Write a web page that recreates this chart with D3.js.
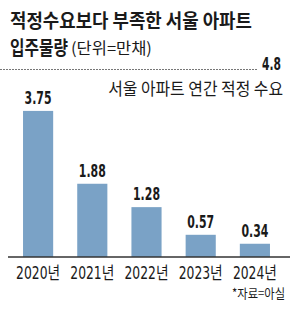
<!DOCTYPE html>
<html><head><meta charset="utf-8">
<script src="https://cdn.jsdelivr.net/npm/d3@7"></script>
<style>
html,body{margin:0;padding:0;background:#fff;}
svg{display:block;}
</style></head>
<body>
<script>
const categories = ["2020년","2021년","2022년","2023년","2024년"];
const values = [3.75, 1.88, 1.28, 0.57, 0.34];
const valueLabels = ["3.75","1.88","1.28","0.57","0.34"];
const demand = 4.8;
const demandLabel = "4.8";
const demandText = "서울 아파트 연간 적정 수요";
const titleLine1 = "적정수요보다 부족한 서울 아파트";
const titleLine2a = "입주물량";
const titleLine2b = "(단위=만채)";
const source = "*자료=아실";

const W = 298, H = 312;
const svg = d3.select("body").append("svg").attr("width", W).attr("height", H);

const kr = "'Noto Sans CJK KR', 'Noto Sans', sans-serif";
const narrow = "'Liberation Sans Narrow', 'DejaVu Sans Condensed', 'Noto Sans CJK KR', sans-serif";

// place a text at (x,y) and horizontally scale it to width w
function put(parent, str, x, y, w, opts){
  const t = parent.append("text").attr("x", 0).attr("y", 0)
    .attr("font-family", opts.family).attr("font-weight", opts.weight || 400)
    .attr("font-size", opts.size).attr("fill", "#1a1a1a")
    .attr("text-anchor", opts.anchor || "start").text(str);
  const L = t.node().getComputedTextLength();
  t.attr("transform", `translate(${x},${y}) scale(${w / L},1)`);
  return t;
}

// title
put(svg, titleLine1, 10, 28, 242, {family: kr, weight: 700, size: 19});
put(svg, titleLine2a, 10, 55, 58, {family: kr, weight: 700, size: 19});
put(svg, titleLine2b, 71, 54, 81, {family: kr, weight: 400, size: 16});

const x = d3.scaleBand().domain(categories).range([11, 282]).paddingInner(0.444).paddingOuter(0.222);
const y = d3.scaleLinear().domain([0, 4.8]).range([257, 70]);

// demand line
svg.append("line").attr("x1", 0).attr("x2", 257)
  .attr("y1", y(demand) - 0.5).attr("y2", y(demand) - 0.5)
  .attr("stroke", "#777").attr("stroke-width", 1).attr("stroke-dasharray", "2,1");
put(svg, demandLabel, 281, y(demand), 19, {family: narrow, weight: 700, size: 17, anchor: "end"});
put(svg, demandText, 283, 95, 175, {family: kr, size: 17, anchor: "end"});

// bars
svg.selectAll("rect.bar").data(values).join("rect").attr("class", "bar")
  .attr("x", (d, i) => x(categories[i]))
  .attr("width", x.bandwidth())
  .attr("y", d => y(d))
  .attr("height", d => y(0) - y(d))
  .attr("fill", "#7aa2c6");

values.forEach((d, i) => {
  put(svg, valueLabels[i], x(categories[i]) + x.bandwidth() / 2, y(d) - 7, 27,
    {family: narrow, weight: 700, size: 17, anchor: "middle"});
});

// axis
const axis = svg.append("g").attr("transform", `translate(0,${y(0)})`)
  .call(d3.axisBottom(x).tickSize(0).tickPadding(0));
axis.select(".domain").remove();
axis.append("line").attr("x1", 8).attr("x2", 290).attr("stroke", "#333").attr("stroke-width", 1.5);
axis.selectAll(".tick text")
  .attr("y", 22).attr("dy", null)
  .attr("font-family", narrow).attr("font-size", 17).attr("fill", "#1a1a1a")
  .attr("textLength", 44).attr("lengthAdjust", "spacingAndGlyphs");

put(svg, source, 285, 298, 53, {family: kr, size: 13, anchor: "end"});
</script>
</body></html>
